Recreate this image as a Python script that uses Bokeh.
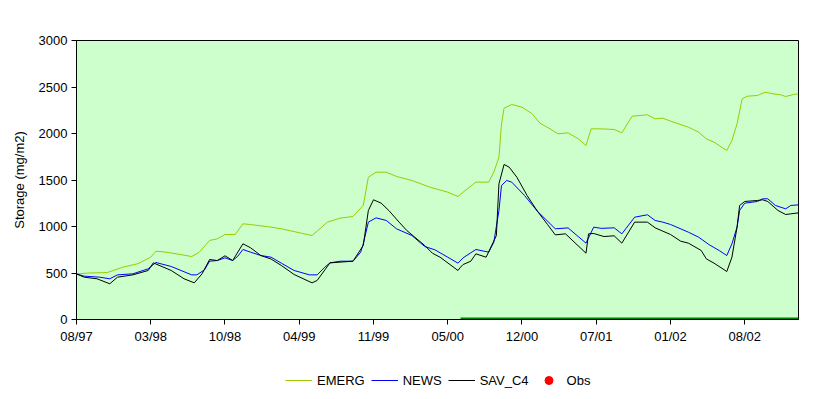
from bokeh.plotting import figure
from bokeh.models import FixedTicker, Legend, LegendItem, Range1d
from bokeh.layouts import column
from bokeh.embed import file_html
from bokeh.resources import INLINE

# ---- data (weekly series, x = week index) ----
tick_labels = ["08/97", "03/98", "10/98", "04/99", "11/99", "05/00", "12/00", "07/01", "01/02", "08/02"]
tick_step = 29
n_weeks = 283

emerg_wk = [0, 5, 12, 18, 24, 29, 31, 35, 39, 45, 48, 52, 55, 58, 62, 65, 68, 76, 80, 92, 98, 103, 108,
            112, 114, 117, 121, 125, 131, 138, 145, 149, 151, 156, 161, 163, 165, 166, 167, 170, 174, 178,
            181, 185, 188, 192, 196, 199, 201, 205, 210, 213, 217, 223, 226, 229, 232, 239, 243, 246, 249,
            254, 256, 258, 260, 262, 266, 269, 272, 275, 277, 280, 282]
emerg = [490, 500, 505, 562, 600, 670, 735, 724, 706, 677, 724, 850, 867, 914, 914, 1029, 1021, 993, 975,
         903, 1047, 1090, 1108, 1226, 1530, 1584, 1584, 1538, 1495, 1423, 1369, 1323, 1369, 1477, 1477, 1584,
         1745, 2104, 2272, 2312, 2283, 2212, 2111, 2050, 1997, 2007, 1943, 1871, 2050, 2050, 2043, 2007, 2186,
         2201, 2158, 2165, 2133, 2068, 2014, 1943, 1907, 1817, 1925, 2104, 2373, 2401, 2409, 2444, 2427, 2416,
         2398, 2419, 2427]

news_wk = [0, 3, 9, 13, 16, 22, 28, 31, 37, 45, 47, 50, 52, 55, 58, 61, 63, 65, 68, 72, 76, 80, 85, 91, 94,
           97, 99, 103, 108, 111, 112, 114, 117, 121, 125, 131, 136, 140, 145, 149, 151, 156, 161, 163, 165,
           166, 168, 170, 175, 180, 187, 192, 199, 202, 205, 210, 213, 218, 223, 226, 229, 232, 239, 243, 247,
           251, 254, 256, 258, 259, 261, 266, 268, 270, 273, 277, 279, 282]
news = [490, 466, 455, 438, 480, 491, 545, 613, 570, 480, 480, 534, 627, 634, 663, 634, 680, 753, 724, 688,
        670, 606, 527, 480, 480, 563, 609, 627, 627, 724, 814, 1047, 1093, 1065, 975, 903, 785, 749, 670, 606,
        663, 753, 724, 831, 1172, 1441, 1495, 1477, 1333, 1165, 975, 985, 821, 993, 980, 986, 921, 1100, 1126,
        1065, 1047, 1022, 939, 885, 806, 742, 688, 814, 993, 1172, 1251, 1269, 1298, 1298, 1226, 1190, 1226,
        1233]

sav_wk = [0, 3, 8, 13, 16, 22, 28, 30, 37, 42, 46, 49, 52, 55, 58, 61, 65, 68, 72, 76, 80, 85, 92, 94, 99,
          108, 112, 114, 116, 119, 122, 126, 129, 136, 139, 142, 149, 150, 151, 154, 156, 160, 164, 165, 167,
          169, 172, 176, 180, 184, 187, 191, 199, 200, 202, 206, 210, 213, 218, 223, 226, 229, 232, 236, 239,
          244, 246, 249, 254, 256, 258, 259, 261, 266, 268, 270, 274, 277, 279, 282]
sav_c4 = [490, 455, 438, 384, 455, 480, 527, 609, 527, 438, 394, 490, 645, 634, 685, 634, 814, 771, 688, 650,
          581, 484, 394, 420, 609, 627, 796, 1172, 1287, 1251, 1172, 1047, 957, 796, 713, 670, 527, 563, 591,
          627, 706, 670, 903, 1459, 1667, 1638, 1530, 1333, 1165, 1021, 910, 921, 713, 921, 925, 892, 900, 821,
          1047, 1047, 986, 950, 914, 842, 821, 742, 652, 606, 516, 670, 993, 1226, 1269, 1280, 1287, 1269, 1172,
          1129, 1136, 1147]

base_wk = [150, 282]
base_val = [0, 0]

# no observations are plotted (legend entry only)
obs_wk = [0]
obs_val = [float("nan")]

FONT = "Liberation Sans"
C_EMERG, C_NEWS, C_SAV, C_OBS = "#99CC00", "#0000FF", "#000000", "#FF0000"

p = figure(width=816, height=352, output_backend="svg", toolbar_location=None,
           x_range=Range1d(0, n_weeks - 1), y_range=Range1d(0, 3000),
           min_border_left=76, min_border_right=18, min_border_top=40, min_border_bottom=33,
           background_fill_color="#CCFFCC", border_fill_color="white")
p.grid.visible = False
p.outline_line_color = "black"
p.outline_line_width = 1

p.line(base_wk, base_val, line_width=4, color="#008000")
p.line(emerg_wk, emerg, line_width=1, color=C_EMERG)
p.line(news_wk, news, line_width=1, color=C_NEWS)
p.line(sav_wk, sav_c4, line_width=1, color=C_SAV)
p.scatter(obs_wk, obs_val, size=3, color=C_OBS, marker="circle")

ticks = [i * tick_step for i in range(len(tick_labels))]
p.xaxis.ticker = FixedTicker(ticks=ticks)
p.xaxis.major_label_overrides = {t: l for t, l in zip(ticks, tick_labels)}
p.yaxis.ticker = FixedTicker(ticks=[0, 500, 1000, 1500, 2000, 2500, 3000])
p.yaxis.axis_label = "Storage (mg/m2)"
for ax in (p.xaxis[0], p.yaxis[0]):
    ax.axis_line_color = "black"
    ax.major_tick_line_color = "black"
    ax.major_tick_in = 0
    ax.major_tick_out = 5
    ax.minor_tick_line_color = None
    ax.major_label_text_font = FONT
    ax.major_label_text_font_size = "13px"
    ax.major_label_text_color = "black"
    ax.major_label_standoff = 4
    ax.axis_label_text_font = FONT
    ax.axis_label_text_font_size = "13px"
    ax.axis_label_text_font_style = "normal"
    ax.axis_label_text_color = "black"
p.yaxis.axis_label_standoff = 9

# legend strip below the chart (legend-only glyphs, no data drawn)
q = figure(width=816, height=39, output_backend="svg", toolbar_location=None,
           x_range=Range1d(0, 1), y_range=Range1d(0, 1), x_axis_type=None, y_axis_type=None,
           min_border=0, border_fill_color="white", background_fill_color="white")
q.outline_line_color = None
q.grid.visible = False
l_emerg = q.line(obs_wk, obs_val, line_width=1, color=C_EMERG)
l_news = q.line(obs_wk, obs_val, line_width=1, color=C_NEWS)
l_sav = q.line(obs_wk, obs_val, line_width=1, color=C_SAV)
l_obs = q.scatter(obs_wk, obs_val, size=3, color=C_OBS, marker="circle")

legend = Legend(items=[
    LegendItem(label="EMERG", renderers=[l_emerg]),
    LegendItem(label="NEWS", renderers=[l_news]),
    LegendItem(label="SAV_C4", renderers=[l_sav]),
    LegendItem(label="Obs", renderers=[l_obs]),
], orientation="horizontal", location=(209, 1), margin=0, padding=0,
    glyph_width=27, glyph_height=20, label_standoff=5, spacing=6,
    label_text_font=FONT, label_text_font_size="13px", label_text_color="black",
    border_line_color=None, background_fill_alpha=0)
q.add_layout(legend, "center")

layout = column(p, q, spacing=0)
open("out.html", "w").write(file_html(layout, INLINE))
